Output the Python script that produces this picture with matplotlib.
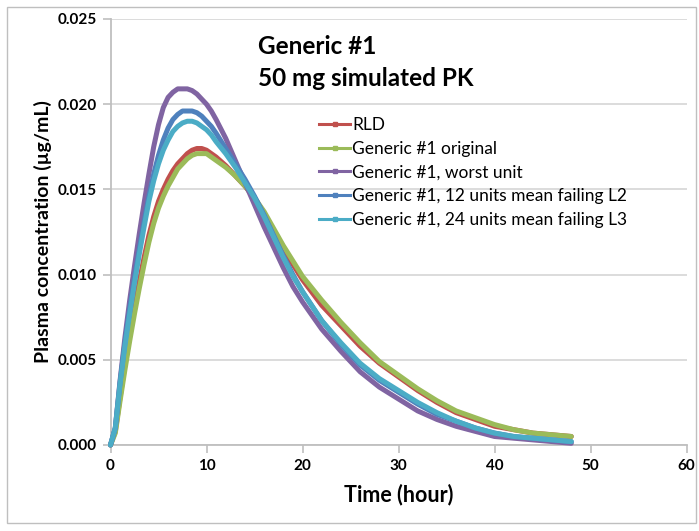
import matplotlib
matplotlib.use('Agg')
import matplotlib.pyplot as plt
from matplotlib.lines import Line2D
from matplotlib.patches import Rectangle
from matplotlib.ticker import FormatStrFormatter

time_h = [0, 0.5, 1, 1.5, 2, 2.5, 3, 3.5, 4, 4.5, 5, 5.5, 6, 6.5, 7, 7.5, 8, 8.5, 9, 9.5,
          10, 10.5, 11,
          12, 13, 14, 15, 16, 17, 18, 19, 20,
          22, 24, 26, 28, 30, 32, 34, 36, 38, 40, 42, 44, 46, 48]

rld = [0, .0008, .0028, .0047, .0064, .0080, .0096, .0110, .0123, .0134, .0143, .0150,
       .0156, .0161, .0165, .0168, .0171, .0173, .0174, .0174, .0173, .0171, .0169,
       .0164, .0158, .0152, .0145, .0136, .0126, .0116, .0106, .0097,
       .0082, .0070, .0058, .0048, .0040, .0032, .0025, .0019, .0015, .0011, .0009,
       .0007, .0006, .0005]

generic_original = [0, .0007, .0026, .0044, .0061, .0077, .0092, .0106, .0119, .0130, .0139,
                    .0146, .0152, .0157, .0162, .0165, .0168, .0170, .0171, .0171, .0171,
                    .0169, .0167,
                    .0163, .0158, .0152, .0145, .0137, .0127, .0117, .0108, .0099,
                    .0085, .0072, .0060, .0049, .0041, .0033, .0026, .0020, .0016, .0012,
                    .0009, .0007, .0006, .0005]

generic_worst = [0, .0010, .0038, .0063, .0085, .0105, .0124, .0142, .0159, .0175, .0188,
                 .0198, .0204, .0207, .0209, .0209, .0209, .0208, .0206, .0203, .0200,
                 .0196, .0191,
                 .0180, .0167, .0154, .0141, .0128, .0116, .0104, .0093, .0084,
                 .0068, .0055, .0043, .0034, .0027, .0020, .0015, .0011, .0008, .0005,
                 .0004, .0003, .0002, .0001]

generic_12 = [0, .0010, .0037, .0060, .0080, .0098, .0115, .0131, .0146, .0159, .0170,
              .0179, .0186, .0191, .0194, .0196, .0196, .0196, .0195, .0193, .0190,
              .0187, .0183,
              .0174, .0165, .0156, .0146, .0135, .0123, .0111, .0100, .0090,
              .0073, .0059, .0047, .0038, .0031, .0024, .0018, .0014, .0010, .0007,
              .0005, .0004, .0003, .0002]

generic_24 = [0, .0010, .0036, .0058, .0077, .0095, .0112, .0128, .0143, .0155, .0165,
              .0173, .0179, .0184, .0187, .0189, .0190, .0190, .0189, .0187, .0185,
              .0182, .0178,
              .0171, .0163, .0154, .0145, .0134, .0122, .0110, .0099, .0090,
              .0073, .0060, .0048, .0039, .0032, .0025, .0019, .0014, .0010, .0007,
              .0005, .0004, .0003, .0002]

series_labels = ["RLD", "Generic #1 original", "Generic #1, worst unit",
                 "Generic #1, 12 units mean failing L2", "Generic #1, 24 units mean failing L3"]
series_colors = ["#C0504D", "#9BBB59", "#8064A2", "#4F81BD", "#4BACC6"]
x_ticks = [0, 10, 20, 30, 40, 50, 60]
y_ticks = [0.000, 0.005, 0.010, 0.015, 0.020, 0.025]

plt.rcParams['font.family'] = ['Lato', 'DejaVu Sans']

W, H = 699, 531
fig = plt.figure(figsize=(W / 100, H / 100), dpi=100)
ax = fig.add_axes([110.5 / W, 1 - 445 / H, (686.5 - 110.5) / W, (445 - 19) / H])

all_series = [rld, generic_original, generic_worst, generic_12, generic_24]
for ys, c in zip(all_series, series_colors):
    ax.plot(time_h, ys, color=c, lw=3.6, solid_capstyle='round',
            solid_joinstyle='round', clip_on=False, zorder=3)

ax.set_xlim(0, 60)
ax.set_ylim(0, 0.025)
ax.set_xticks(x_ticks)
ax.set_yticks(y_ticks)
ax.yaxis.set_major_formatter(FormatStrFormatter('%.3f'))
ax.grid(axis='y', color='#d9d9d9', lw=1.3)
ax.set_axisbelow(True)
for s in ['top', 'right']:
    ax.spines[s].set_visible(False)
for s in ['left', 'bottom']:
    ax.spines[s].set_color('#bfbfbf')
    ax.spines[s].set_linewidth(1.3)
ax.tick_params(direction='out', length=6, width=1.2, color='#bfbfbf', labelsize=11,
               pad=4)
for lbl in ax.get_xticklabels() + ax.get_yticklabels():
    lbl.set_fontweight('bold')

ax.set_xlabel('Time (hour)', fontsize=15.5, fontweight='bold', labelpad=8)
ax.set_ylabel('Plasma concentration (µg/mL)', fontsize=14, fontweight='bold', labelpad=4)

fig.text(258 / W, 1 - 47 / H, 'Generic #1', fontsize=17.5, fontweight='bold', va='center',
         ha='left')
fig.text(258 / W, 1 - 79 / H, '50 mg simulated PK', fontsize=17.5, fontweight='bold',
         va='center', ha='left')

handles = [Line2D([0], [0], color=c, lw=2.2, marker='s', markersize=2.5) for c in series_colors]
ax.legend(handles, series_labels, loc='upper left', bbox_to_anchor=(312 / W, 1 - 110 / H),
          bbox_transform=fig.transFigure, frameon=False, fontsize=12.5, handlelength=1.8,
          handletextpad=0.1, labelspacing=0.45, borderaxespad=0)

fig.patches.append(Rectangle((7 / W, 8 / H), (696 - 7) / W, (524 - 8) / H,
                             transform=fig.transFigure, fill=False, edgecolor='#bfbfbf',
                             lw=1.0))

fig.savefig('out.png', dpi=100)
